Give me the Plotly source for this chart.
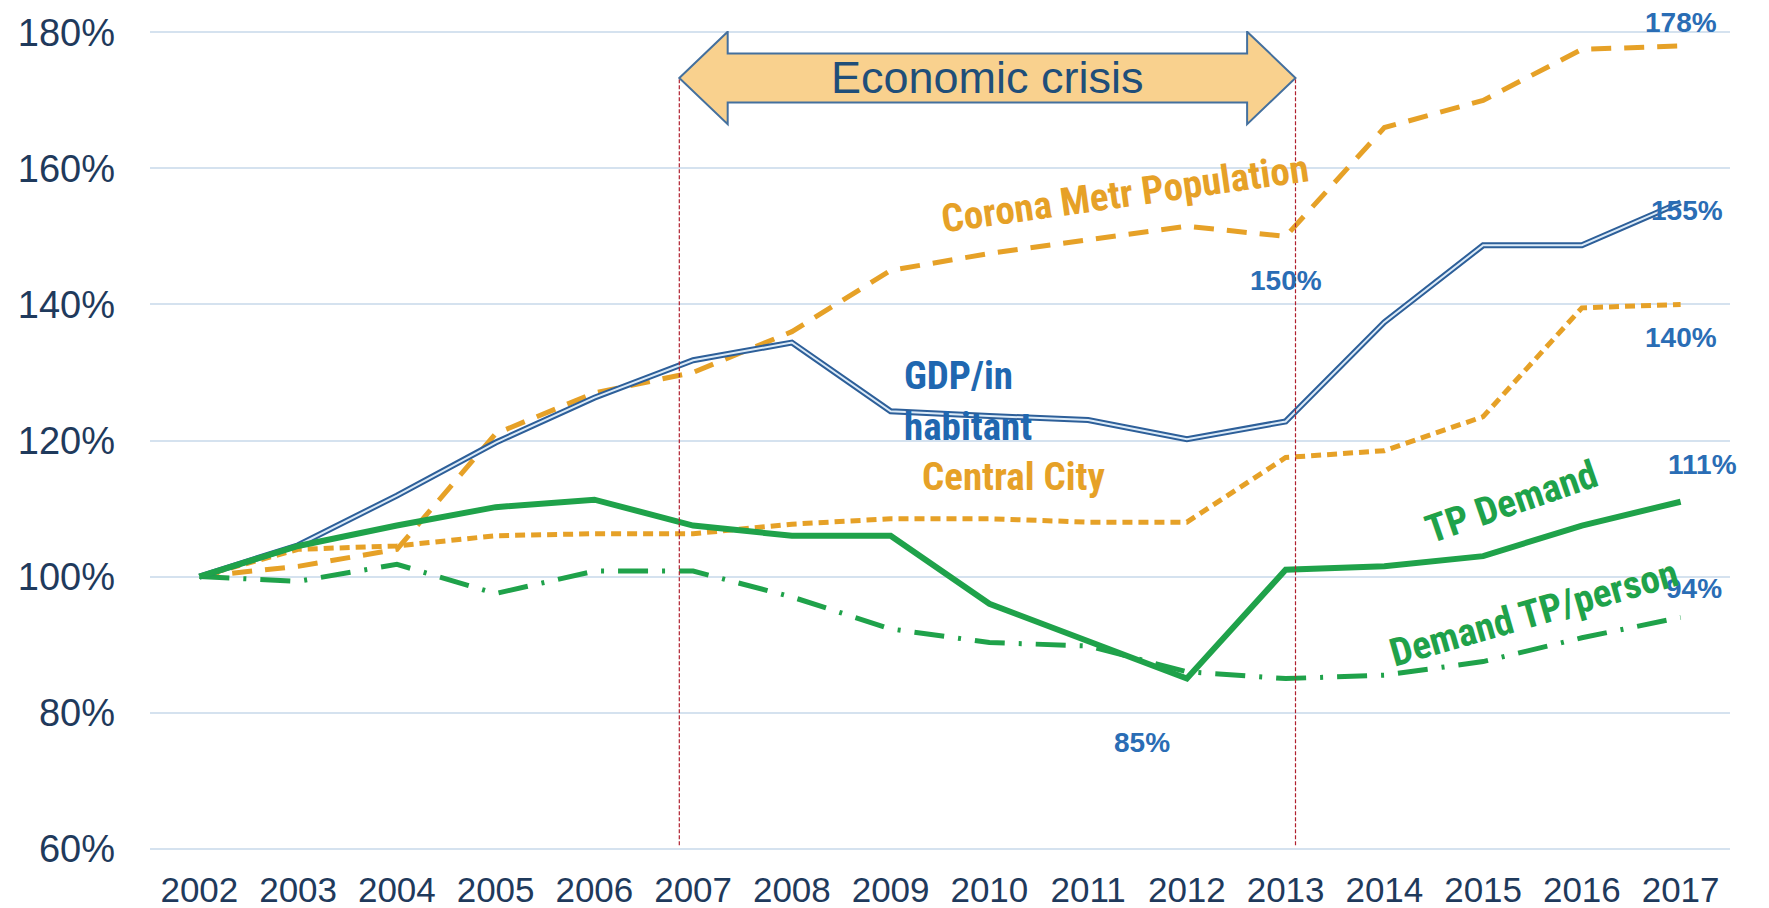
import plotly.graph_objects as go

# ---- data (index, 2002 = 100%) ----
years = list(range(2002, 2018))

gdp_per_inhabitant = [100, 104.6, 111.9, 119.7, 126.3, 131.8, 134.4, 124.3,
                      123.6, 123.0, 120.2, 122.8, 137.4, 148.7, 148.7, 155]
corona_metr_population = [100, 101.5, 104, 121, 127, 130, 136, 145,
                          147.5, 149.5, 151.5, 150, 166, 170, 177.5, 178]
central_city = [100, 104, 104.5, 106, 106.3, 106.3, 107.7, 108.5,
                108.5, 108, 108, 117.5, 118.5, 123.5, 139.5, 140]
tp_demand = [100, 104.5, 107.5, 110.2, 111.3, 107.5, 106, 106,
             96, 90.5, 85, 101, 101.5, 103, 107.5, 111]
demand_tp_person = [100, 99.3, 101.8, 97.5, 100.8, 100.8, 97, 92.3,
                    90.3, 89.8, 86, 85, 85.5, 87.5, 91, 94]

y_ticks = [60, 80, 100, 120, 140, 160, 180]
y_tick_text = [f"{v}%" for v in y_ticks]

crisis_start, crisis_end = 2006.86, 2013.1
crisis_label = "Economic crisis"

# ---- styles ----
BLUE_DARK = "#2D5F99"
BLUE_LIGHT = "#DCEBF8"
BLUE_LABEL = "#2A6DB5"
ORANGE = "#E6A127"
GREEN = "#1FA24A"
AXIS_TEXT = "#1F3A5C"
GRID = "#D5E2EF"
ARROW_FILL = "#F9D18E"
ARROW_EDGE = "#44709E"
NARROW = "Liberation Sans Narrow, Roboto Condensed, Liberation Sans, Arial"
REGULAR = "Liberation Sans, Arial"

fig = go.Figure()

fig.add_trace(go.Scatter(x=years, y=central_city, mode="lines",
                         line=dict(color=ORANGE, width=5, dash="10px,6px")))
fig.add_trace(go.Scatter(x=years, y=corona_metr_population, mode="lines",
                         line=dict(color=ORANGE, width=5, dash="20px,13px")))
fig.add_trace(go.Scatter(x=years, y=demand_tp_person, mode="lines",
                         line=dict(color=GREEN, width=5, dash="30px,14px,3px,14px")))
# double line: dark outer stroke with a light core
fig.add_trace(go.Scatter(x=years, y=gdp_per_inhabitant, mode="lines",
                         line=dict(color=BLUE_DARK, width=6)))
fig.add_trace(go.Scatter(x=years, y=gdp_per_inhabitant, mode="lines",
                         line=dict(color=BLUE_LIGHT, width=2)))
fig.add_trace(go.Scatter(x=years, y=tp_demand, mode="lines",
                         line=dict(color=GREEN, width=6)))

# crisis period: vertical markers and double-headed arrow
y_mid, head_h, body_h, head_len = 173.3, 6.8, 3.6, 0.49
for xv in (crisis_start, crisis_end):
    fig.add_shape(type="line", xref="x", yref="y", x0=xv, x1=xv, y0=60.5, y1=y_mid,
                  line=dict(color="#B0202E", width=1.2, dash="4px,2px"), layer="above")

pts = [
    (crisis_start, y_mid),
    (crisis_start + head_len, y_mid + head_h),
    (crisis_start + head_len, y_mid + body_h),
    (crisis_end - head_len, y_mid + body_h),
    (crisis_end - head_len, y_mid + head_h),
    (crisis_end, y_mid),
    (crisis_end - head_len, y_mid - head_h),
    (crisis_end - head_len, y_mid - body_h),
    (crisis_start + head_len, y_mid - body_h),
    (crisis_start + head_len, y_mid - head_h),
]
path = "M " + " L ".join(f"{x},{y}" for x, y in pts) + " Z"
fig.add_shape(type="path", xref="x", yref="y", path=path,
              fillcolor=ARROW_FILL, line=dict(color=ARROW_EDGE, width=2), layer="above")
fig.add_annotation(x=(crisis_start + crisis_end) / 2, y=y_mid, text=crisis_label,
                   showarrow=False, font=dict(family=REGULAR, size=45, color="#1F4E79"))

# value labels anchored on the points they describe
value_labels = [
    (years[-1], corona_metr_population[-1], 0, 23),
    (years[-1], gdp_per_inhabitant[-1], 6, -8),
    (2013, corona_metr_population[11], 0, -44),
    (years[-1], central_city[-1], 0, -33),
    (years[-1], tp_demand[-1], 22, 37),
    (years[-1], demand_tp_person[-1], 13, 29),
    (2012, tp_demand[10], -45, -64),
]
for xv, yv, dx, dy in value_labels:
    fig.add_annotation(x=xv, y=yv, text=f"{yv:g}%", showarrow=False,
                       xshift=dx, yshift=dy,
                       font=dict(family=REGULAR, size=28, color=BLUE_LABEL, weight="bold"))

# series names
series_labels = [
    ("Corona Metr Population", 2011.37, 156.2, -8, ORANGE, "center"),
    ("GDP/in<br>habitant", 2009.12, 125.7, 0, "#2067B0", "left"),
    ("Central City", 2010.25, 114.7, 0, ORANGE, "center"),
    ("TP Demand", 2015.29, 111.0, -19, GREEN, "center"),
    ("Demand TP/person", 2015.52, 94.7, -16, GREEN, "center"),
]
for text, xv, yv, ang, col, anchor in series_labels:
    fig.add_annotation(x=xv, y=yv, text=text, showarrow=False, textangle=ang,
                       xanchor=anchor, align="left",
                       font=dict(family=NARROW, size=39, color=col, weight="bold"))

fig.update_layout(
    width=1769, height=908,
    margin=dict(l=150, r=39, t=31, b=58),
    paper_bgcolor="white", plot_bgcolor="white",
    showlegend=False, hovermode=False,
    font=dict(family=REGULAR, color=AXIS_TEXT),
)
fig.update_xaxes(range=[2001.5, 2017.5], tickvals=years, showgrid=False,
                 zeroline=False, showline=False, ticks="", automargin=False,
                 tickfont=dict(size=35, color=AXIS_TEXT), ticklabelstandoff=16)
fig.update_yaxes(range=[59.8, 180.2], tickvals=y_ticks, ticktext=y_tick_text,
                 showgrid=True, gridcolor=GRID, gridwidth=1.5,
                 zeroline=False, showline=False, ticks="", automargin=False,
                 tickfont=dict(size=38, color=AXIS_TEXT), ticklabelstandoff=34)

fig.write_html("out.html")
